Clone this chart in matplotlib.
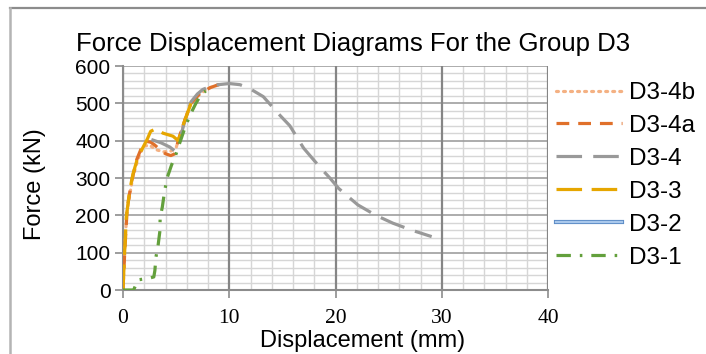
import matplotlib
matplotlib.use("Agg")
import matplotlib.pyplot as plt
from matplotlib.lines import Line2D
import matplotlib.patheffects as pe
from matplotlib.ticker import MultipleLocator

# ---------------- data ----------------
d3_4b_x = [0, 0.15, 0.35, 0.9, 1.4, 1.9, 2.5, 3.1, 3.8, 4.5, 5.0, 5.3, 5.8, 6.4, 7.2, 8.2, 8.9, 9.2]
d3_4b_y = [0, 100, 205, 300, 350, 385, 388, 376, 370, 372, 381, 410, 455, 500, 525, 542, 549, 550]

d3_4a_x = [0, 0.16, 0.4, 0.8, 1.3, 1.8, 2.2, 2.6, 3.0, 3.5, 4.0, 4.5, 4.9, 5.2, 5.7, 6.4, 7.2, 8.2, 9.0, 9.6]
d3_4a_y = [0, 100, 220, 290, 350, 385, 398, 396, 388, 375, 365, 360, 365, 401, 445, 500, 525, 542, 550, 552]

d3_4_x = [2.67, 3.6, 4.4, 4.9, 5.3, 5.8, 6.4, 7.0, 7.5, 8.3, 9.0, 10.0, 11.0, 11.9, 13.2, 14.8,
          15.7, 17.0, 18.5, 19.5, 20.3, 22.1, 23.8, 25.4, 27.2, 29.05]
d3_4_y = [403, 394, 383, 372, 400, 450, 504, 525, 537, 546, 550, 553, 550, 540, 518, 467,
          440, 380, 330, 299, 272, 228, 200, 179, 160, 143]

d3_3_x = [0, 0.16, 0.31, 0.63, 0.94, 1.4, 1.9, 2.3, 2.6, 3.1, 3.77, 4.7, 5.2, 5.7, 6.4]
d3_3_y = [0, 105, 195, 267, 311, 356, 383, 405, 425, 432, 420, 412, 400, 445, 500]

d3_2_x = []
d3_2_y = []

d3_1_x = [0, 1.0, 1.4, 2.5, 2.9, 3.0, 3.1, 3.3, 3.46, 3.5, 3.7, 3.9, 4.15, 4.56, 5.0, 5.4,
          5.8, 6.3, 6.86, 7.4, 7.8]
d3_1_y = [0, 0, 27, 32, 35, 52, 88, 119, 155, 195, 222, 262, 300, 334, 365, 399,
          432, 468, 500, 526, 533]

labels = ["D3-4b", "D3-4a", "D3-4", "D3-3", "D3-2", "D3-1"]
x_ticks = [0, 10, 20, 30, 40]
y_ticks = [0, 100, 200, 300, 400, 500, 600]

# ---------------- figure ----------------
plt.rcParams['font.family'] = ['Liberation Sans', 'DejaVu Sans']
fig = plt.figure(figsize=(7.06, 3.54), dpi=100)
ax = fig.add_axes([123 / 706, 1 - 290 / 354, (548 - 123) / 706, (290 - 66) / 354])

lw = 2.3
h1, = ax.plot(d3_4b_x, d3_4b_y, color='#F4B183', lw=lw, linestyle=(0, (0.6, 1.6)),
              dash_capstyle='round', zorder=3)
h2, = ax.plot(d3_4a_x, d3_4a_y, color='#E0702A', lw=lw, linestyle=(0, (4, 2.8)), zorder=4)
h3, = ax.plot(d3_4_x, d3_4_y, color='#999999', lw=lw, linestyle=(0, (8, 3.5)), zorder=5)
h4, = ax.plot(d3_3_x, d3_3_y, color='#E6A600', lw=lw, linestyle=(0, (8, 3)), zorder=6)
h5, = ax.plot(d3_2_x, d3_2_y, color='#A9C8EC', lw=1.6, zorder=7,
              path_effects=[pe.Stroke(linewidth=3.0, foreground='#5B8BC5'), pe.Normal()])
h6, = ax.plot(d3_1_x, d3_1_y, color='#63A03C', lw=lw, linestyle=(0, (4.5, 2.8, 0.8, 2.8)), zorder=8)

ax.set_xlim(0, 40)
ax.set_ylim(0, 600)
ax.set_xticks(x_ticks)
ax.set_yticks(y_ticks)
ax.xaxis.set_minor_locator(MultipleLocator(2))
ax.yaxis.set_minor_locator(MultipleLocator(20))

ax.grid(False)
ax.grid(which='minor', axis='both', color='#D6D6D6', lw=1.0)
ax.set_axisbelow(True)
for v in y_ticks:
    ax.axhline(v, color='#9E9E9E', lw=1.2, zorder=1)
for v in x_ticks:
    ax.axvline(v, color='#858585', lw=1.6, zorder=1.1)

for s in ['top', 'right']:
    ax.spines[s].set_visible(False)
for s in ['left', 'bottom']:
    ax.spines[s].set_color('#8C8C8C')
    ax.spines[s].set_linewidth(1.5)
    ax.spines[s].set_zorder(1.2)

ax.tick_params(axis='both', which='minor', length=0)
ax.tick_params(axis='x', which='major', length=6, color='#8C8C8C', width=1.2, pad=8)
ax.tick_params(axis='y', which='major', length=6, color='#8C8C8C', width=1.2, pad=3)
for lab in ax.get_xticklabels():
    lab.set_fontfamily(['Liberation Serif', 'DejaVu Serif'])
    lab.set_fontsize(15.5)
for lab in ax.get_yticklabels():
    lab.set_fontsize(15)

fig.text(353 / 706, 1 - 44 / 354, "Force Displacement Diagrams For the Group D3",
         ha='center', va='center', fontsize=18.5)
fig.text(35 / 706, 1 - 184 / 354, "Force (kN)", rotation=90, ha='center', va='center',
         fontsize=17)
fig.text(363 / 706, 1 - 341 / 354, "Displacement (mm)", ha='center', va='center', fontsize=17)

leg = ax.legend([h1, h2, h3, h4, h5, h6], labels, loc='upper left',
                bbox_to_anchor=(556 / 706, 1 - 82 / 354), bbox_transform=fig.transFigure,
                frameon=False, fontsize=17.5, handlelength=2.7, handletextpad=0.3,
                labelspacing=0.45, borderaxespad=0, borderpad=0)

# outer frame lines
fig.add_artist(Line2D([10 / 706, 1], [1 - 8 / 354, 1 - 8 / 354], transform=fig.transFigure,
                      color='#8C8C8C', lw=1.6))
fig.add_artist(Line2D([10 / 706, 10 / 706], [0, 1 - 8 / 354], transform=fig.transFigure,
                      color='#B4B4B4', lw=1.8))

fig.savefig("out.png", dpi=100)
